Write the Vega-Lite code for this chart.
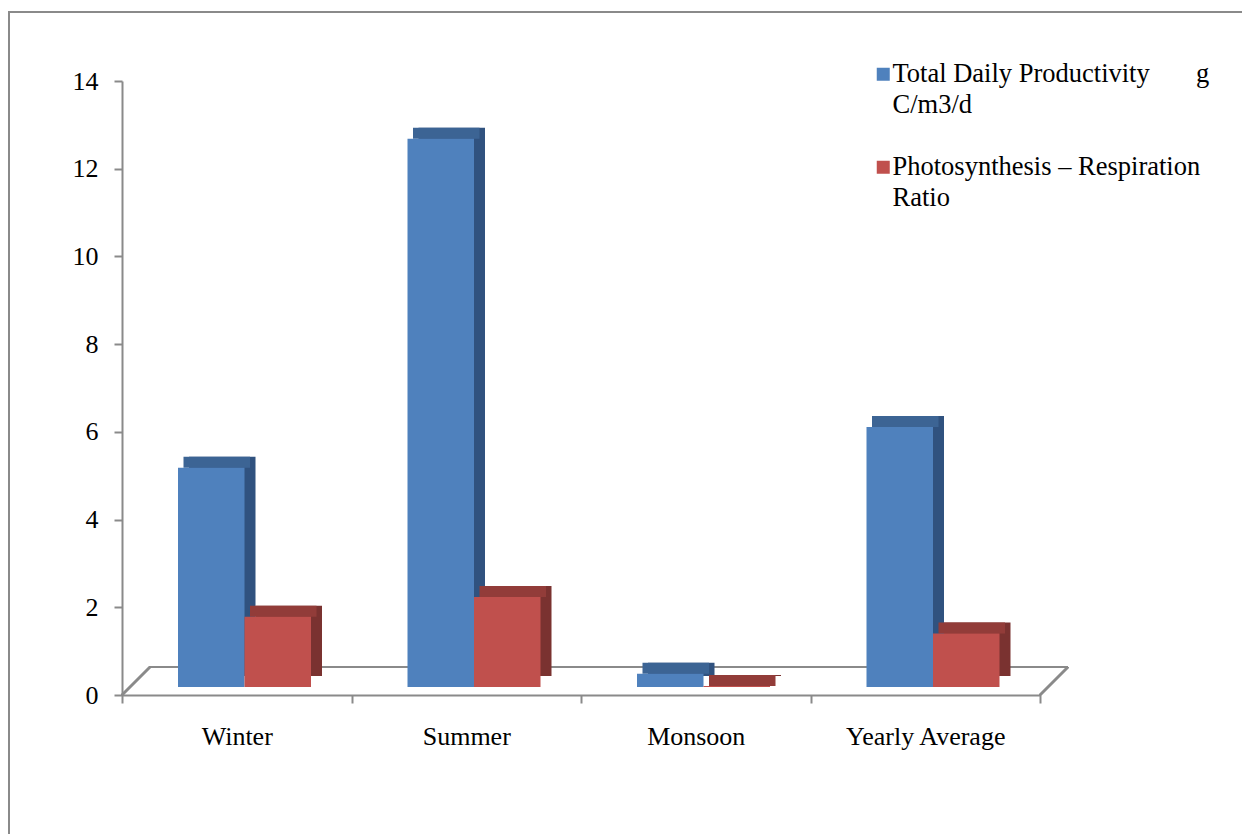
{
  "$schema": "https://vega.github.io/schema/vega-lite/v6.json",
  "autosize": "none",
  "width": 1240,
  "height": 830,
  "padding": {"left": 9, "top": 12, "right": -7, "bottom": -8},
  "background": "white",
  "config": {
    "view": {"stroke": "#8a8a8a", "strokeWidth": 2},
    "font": "Liberation Serif",
    "axis": {
      "domainColor": "#8a8a8a",
      "domainWidth": 2,
      "tickColor": "#8a8a8a",
      "tickWidth": 2,
      "tickSize": 8,
      "labelFont": "Liberation Serif",
      "labelFontSize": 26,
      "labelColor": "#000000",
      "grid": false,
      "title": null
    }
  },
  "data": {
    "values": [
      {"season": "Winter", "series": "Total Daily Productivity g C/m3/d", "value": 5.0},
      {"season": "Winter", "series": "Photosynthesis – Respiration Ratio", "value": 1.6},
      {"season": "Summer", "series": "Total Daily Productivity g C/m3/d", "value": 12.5},
      {"season": "Summer", "series": "Photosynthesis – Respiration Ratio", "value": 2.05},
      {"season": "Monsoon", "series": "Total Daily Productivity g C/m3/d", "value": 0.3},
      {"season": "Monsoon", "series": "Photosynthesis – Respiration Ratio", "value": 0.02},
      {"season": "Yearly Average", "series": "Total Daily Productivity g C/m3/d", "value": 5.93},
      {"season": "Yearly Average", "series": "Photosynthesis – Respiration Ratio", "value": 1.22}
    ]
  },
  "resolve": {"scale": {"x": "independent"}},
  "layer": [
    {
      "layer": [
        {
          "mark": {"type": "rule", "color": "#8a8a8a", "strokeWidth": 2, "xOffset": 28, "x2Offset": 28, "yOffset": -28},
          "encoding": {
            "x": {"datum": 0, "type": "quantitative", "scale": {"domain": [0, 1], "range": [113, 1031]}, "axis": null},
            "x2": {"datum": 1},
            "y": {"datum": 0, "type": "quantitative", "scale": {"domain": [0, 14], "range": [683, 69], "nice": false}}
          }
        },
        {
          "mark": {"type": "rule", "color": "#8a8a8a", "strokeWidth": 2, "x2Offset": 28, "y2Offset": -28},
          "encoding": {
            "x": {"datum": 0, "type": "quantitative", "scale": {"domain": [0, 1], "range": [113, 1031]}, "axis": null},
            "x2": {"datum": 0},
            "y": {"datum": 0, "type": "quantitative", "scale": {"domain": [0, 14], "range": [683, 69], "nice": false}},
            "y2": {"datum": 0}
          }
        },
        {
          "mark": {"type": "rule", "color": "#8a8a8a", "strokeWidth": 2, "x2Offset": 28, "y2Offset": -28},
          "encoding": {
            "x": {"datum": 1, "type": "quantitative", "scale": {"domain": [0, 1], "range": [113, 1031]}, "axis": null},
            "x2": {"datum": 1},
            "y": {"datum": 0, "type": "quantitative", "scale": {"domain": [0, 14], "range": [683, 69], "nice": false}},
            "y2": {"datum": 0}
          }
        }
      ]
    },
    {
      "resolve": {"scale": {"xOffset": "independent"}},
      "encoding": {
        "x": {
          "field": "season",
          "type": "nominal",
          "sort": ["Winter", "Summer", "Monsoon", "Yearly Average"],
          "scale": {"range": [113, 1031], "paddingInner": 0, "paddingOuter": 0},
          "axis": {"orient": "bottom", "offset": -147, "tickBand": "extent", "labelAngle": 0, "labelPadding": 20, "title": null}
        },
        "y": {
          "field": "value",
          "type": "quantitative",
          "scale": {"domain": [0, 14], "range": [683, 69], "nice": false},
          "axis": {"orient": "left", "offset": -113, "values": [0, 2, 4, 6, 8, 10, 12, 14], "format": "d", "labelPadding": 16, "title": null}
        }
      },
      "layer": [
        {
          "mark": {"type": "bar", "yOffset": -19, "y2Offset": -19},
          "encoding": {
            "xOffset": {"field": "series", "sort": ["Total Daily Productivity g C/m3/d", "Photosynthesis – Respiration Ratio"], "scale": {"range": [67, 200], "paddingInner": 0, "paddingOuter": 0}},
            "color": {"condition": {"test": "datum.series === 'Total Daily Productivity g C/m3/d'", "value": "#30527f"}, "value": "#7a3230"}
          }
        },
        {
          "mark": {"type": "bar", "yOffset": -19, "y2Offset": -8},
          "encoding": {
            "xOffset": {"field": "series", "sort": ["Total Daily Productivity g C/m3/d", "Photosynthesis – Respiration Ratio"], "scale": {"range": [61.5, 194.5], "paddingInner": 0, "paddingOuter": 0}},
            "y2": {"field": "value"},
            "color": {"condition": {"test": "datum.series === 'Total Daily Productivity g C/m3/d'", "value": "#3c6494"}, "value": "#923c39"}
          }
        },
        {
          "mark": {"type": "bar", "yOffset": -8, "y2Offset": -8},
          "encoding": {
            "xOffset": {"field": "series", "sort": ["Total Daily Productivity g C/m3/d", "Photosynthesis – Respiration Ratio"], "scale": {"range": [56, 189], "paddingInner": 0, "paddingOuter": 0}},
            "color": {
              "field": "series",
              "type": "nominal",
              "scale": {"domain": ["Total Daily Productivity g C/m3/d", "Photosynthesis – Respiration Ratio"], "range": ["#4f81bd", "#c0504d"]},
              "legend": {
                "orient": "none",
                "legendX": 861,
                "legendY": 49,
                "title": null,
                "padding": 0,
                "symbolType": "square",
                "symbolSize": 169,
                "symbolStrokeWidth": 0,
                "symbolOpacity": 1,
                "labelFont": "Liberation Serif",
                "labelFontSize": 26.5,
                "labelColor": "#000000",
                "labelLimit": 500,
                "labelOffset": -4,
                "rowPadding": 35,
                "labelExpr": "datum.label === 'Total Daily Productivity g C/m3/d' ? ['Total Daily Productivity\u00a0\u00a0\u00a0\u00a0\u00a0\u00a0\u00a0g', 'C/m3/d'] : ['Photosynthesis – Respiration', 'Ratio']",
                "encode": {"labels": {"update": {"lineHeight": {"value": 31}}}}
              }
            }
          }
        }
      ]
    }
  ]
}
